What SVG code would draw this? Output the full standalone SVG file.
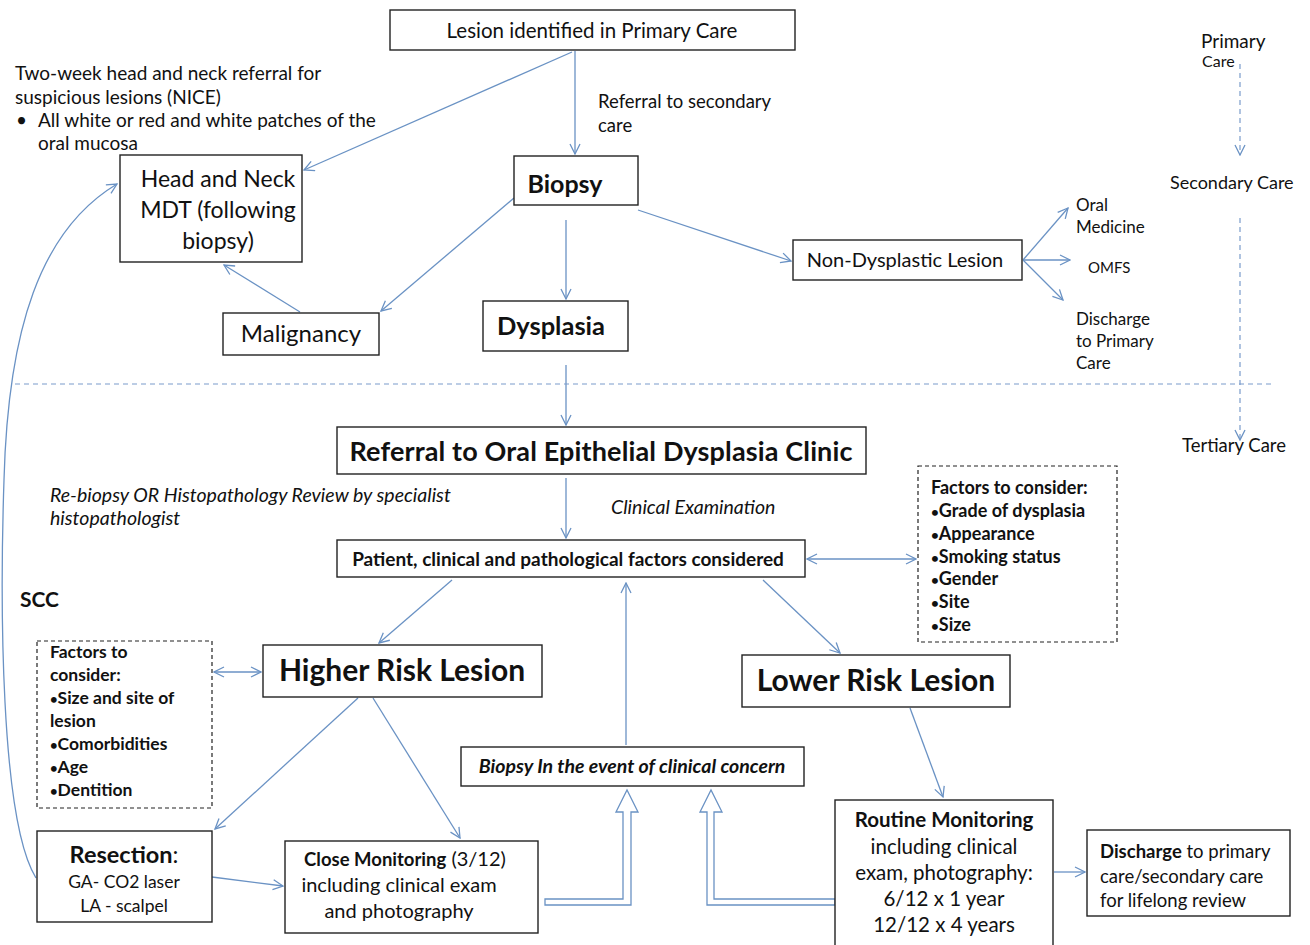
<svg xmlns="http://www.w3.org/2000/svg" width="1310" height="945" viewBox="0 0 1310 945">
<defs>
<style>
text{font-family:Lato,"Liberation Sans",sans-serif;fill:#111;}
.c{text-anchor:middle;}
.b{font-weight:bold;}
.i{font-style:italic;}
.bl{font-size:0.75em;}
.box{fill:#fff;stroke:#222;stroke-width:1.4;}
.dbox{fill:#fff;stroke:#222;stroke-width:1.2;stroke-dasharray:4 3;}
.ln{fill:none;stroke:#6a92c4;stroke-width:1.3;}
.dl{fill:none;stroke:#7a9ccb;stroke-width:1.2;stroke-dasharray:5 4;}
.blk{fill:#fff;stroke:#6a92c4;stroke-width:1.3;}
</style>
<marker id="ah" viewBox="0 0 12 12" refX="11" refY="6" markerWidth="12" markerHeight="12" markerUnits="userSpaceOnUse" orient="auto-start-reverse">
<path d="M1,1 L11,6 L1,11" fill="none" stroke="#6a92c4" stroke-width="1.3"/>
</marker>
</defs>
<rect width="1310" height="945" fill="#fff"/>

<g id="connectors">
<line class="ln" x1="575" y1="51" x2="575" y2="154" marker-end="url(#ah)"/>
<line class="ln" x1="572" y1="52" x2="304" y2="170" marker-end="url(#ah)"/>
<line class="ln" x1="638" y1="210" x2="791" y2="261" marker-end="url(#ah)"/>
<line class="ln" x1="514" y1="198" x2="381" y2="311" marker-end="url(#ah)"/>
<line class="ln" x1="566" y1="220" x2="566" y2="299" marker-end="url(#ah)"/>
<line class="ln" x1="300" y1="312" x2="224" y2="265" marker-end="url(#ah)"/>
<line class="ln" x1="1023" y1="260" x2="1068" y2="208" marker-end="url(#ah)"/>
<line class="ln" x1="1023" y1="260" x2="1070" y2="260" marker-end="url(#ah)"/>
<line class="ln" x1="1023" y1="260" x2="1063" y2="300" marker-end="url(#ah)"/>
<line class="ln" x1="566" y1="365" x2="566" y2="425" marker-end="url(#ah)"/>
<line class="ln" x1="566" y1="478" x2="566" y2="538" marker-end="url(#ah)"/>
<line class="ln" x1="807" y1="559" x2="916" y2="559" marker-start="url(#ah)" marker-end="url(#ah)"/>
<line class="ln" x1="452" y1="580" x2="379" y2="643" marker-end="url(#ah)"/>
<line class="ln" x1="763" y1="580" x2="840" y2="653" marker-end="url(#ah)"/>
<line class="ln" x1="626" y1="745" x2="626" y2="583" marker-end="url(#ah)"/>
<line class="ln" x1="214" y1="672" x2="261" y2="672" marker-start="url(#ah)" marker-end="url(#ah)"/>
<line class="ln" x1="358" y1="698" x2="215" y2="829" marker-end="url(#ah)"/>
<line class="ln" x1="373" y1="698" x2="460" y2="838" marker-end="url(#ah)"/>
<line class="ln" x1="910" y1="708" x2="943" y2="797" marker-end="url(#ah)"/>
<line class="ln" x1="212" y1="877" x2="283" y2="886" marker-end="url(#ah)"/>
<line class="ln" x1="1054" y1="872" x2="1085" y2="872" marker-end="url(#ah)"/>
<path class="ln" d="M36,878 C0,820 0,600 4,480 C8,330 40,230 117,184" marker-end="url(#ah)"/>
<path class="blk" d="M545,899 L623,899 L623,812 L616,812 L627,790 L638,812 L631,812 L631,905 L545,905 Z"/>
<path class="blk" d="M835,899 L714,899 L714,812 L722,812 L711,790 L700,812 L707,812 L707,905 L835,905 Z"/>
<line class="dl" x1="15" y1="384" x2="1275" y2="384"/>
<line class="dl" x1="1240" y1="64" x2="1240" y2="155" marker-end="url(#ah)"/>
<line class="dl" x1="1240" y1="218" x2="1240" y2="440" marker-end="url(#ah)"/>
</g>

<g id="lesion"><rect class="box" x="390" y="10" width="405" height="40"/><text class="c" x="592" y="38" font-size="20.5">Lesion identified in Primary Care</text></g>

<g id="nice-note">
<text x="15" y="80" font-size="19">Two-week head and neck referral for</text>
<text x="15" y="104" font-size="19">suspicious lesions (NICE)</text>
<text x="16" y="127" font-size="19">•</text>
<text x="38" y="127" font-size="19">All white or red and white patches of the</text>
<text x="38" y="150" font-size="19">oral mucosa</text>
</g>

<g id="referral-secondary-label">
<text x="598" y="108" font-size="18.5">Referral to secondary</text>
<text x="598" y="132" font-size="18.5">care</text>
</g>

<g id="head-neck"><rect class="box" x="120" y="155" width="182" height="107"/>
<text class="c" x="218" y="187" font-size="23">Head and Neck</text>
<text class="c" x="218" y="218" font-size="23">MDT (following</text>
<text class="c" x="218" y="249" font-size="23">biopsy)</text></g>

<g id="biopsy"><rect class="box" x="514" y="156" width="124" height="49"/><text class="c b" x="565" y="193" font-size="25">Biopsy</text></g>

<g id="non-dysplastic"><rect class="box" x="793" y="240" width="229" height="40"/><text class="c" x="905" y="267" font-size="20">Non-Dysplastic Lesion</text></g>

<g id="outcomes">
<text x="1076" y="211" font-size="17">Oral</text>
<text x="1076" y="233" font-size="17">Medicine</text>
<text x="1088" y="273" font-size="15">OMFS</text>
<text x="1076" y="325" font-size="17">Discharge</text>
<text x="1076" y="347" font-size="17">to Primary</text>
<text x="1076" y="369" font-size="17">Care</text>
</g>

<g id="care-levels">
<text x="1201" y="48" font-size="19">Primary</text>
<text x="1202" y="67" font-size="16">Care</text>
<text x="1170" y="189" font-size="18">Secondary Care</text>
<text x="1182" y="452" font-size="18.5">Tertiary Care</text>
</g>

<g id="malignancy"><rect class="box" x="223" y="313" width="156" height="42"/><text class="c" x="301" y="342" font-size="24">Malignancy</text></g>

<g id="dysplasia"><rect class="box" x="483" y="301" width="145" height="50"/><text class="c b" x="551" y="335" font-size="25.5">Dysplasia</text></g>

<g id="referral-clinic"><rect class="box" x="337" y="427" width="529" height="47"/><text class="c b" x="601" y="461" font-size="27" textLength="503" lengthAdjust="spacing">Referral to Oral Epithelial Dysplasia Clinic</text></g>

<g id="rebiopsy-note">
<text class="i" x="50" y="502" font-size="19.5">Re-biopsy OR Histopathology Review by specialist</text>
<text class="i" x="50" y="525" font-size="19.5">histopathologist</text>
</g>

<g id="clinical-exam"><text class="i" x="611" y="514" font-size="19.5">Clinical Examination</text></g>

<g id="factors-considered"><rect class="box" x="337" y="540" width="468" height="37"/><text class="c b" x="568" y="566" font-size="19">Patient, clinical and pathological factors considered</text></g>

<g id="factors-right"><rect class="dbox" x="918" y="466" width="199" height="176"/>
<text class="b" x="931" y="494" font-size="18">Factors to consider:</text>
<text class="b" x="931" y="517" font-size="18"><tspan class="bl">•</tspan>Grade of dysplasia</text>
<text class="b" x="931" y="540" font-size="18"><tspan class="bl">•</tspan>Appearance</text>
<text class="b" x="931" y="563" font-size="18"><tspan class="bl">•</tspan>Smoking status</text>
<text class="b" x="931" y="585" font-size="18"><tspan class="bl">•</tspan>Gender</text>
<text class="b" x="931" y="608" font-size="18"><tspan class="bl">•</tspan>Site</text>
<text class="b" x="931" y="631" font-size="18"><tspan class="bl">•</tspan>Size</text>
</g>

<g id="scc"><text class="b" x="20" y="607" font-size="21">SCC</text></g>

<g id="factors-left"><rect class="dbox" x="37" y="641" width="175" height="167"/>
<text class="b" x="50" y="658" font-size="17.5">Factors to</text>
<text class="b" x="50" y="681" font-size="17.5">consider:</text>
<text class="b" x="50" y="704" font-size="17.5"><tspan class="bl">•</tspan>Size and site of</text>
<text class="b" x="50" y="727" font-size="17.5">lesion</text>
<text class="b" x="50" y="750" font-size="17.5"><tspan class="bl">•</tspan>Comorbidities</text>
<text class="b" x="50" y="773" font-size="17.5"><tspan class="bl">•</tspan>Age</text>
<text class="b" x="50" y="796" font-size="17.5"><tspan class="bl">•</tspan>Dentition</text>
</g>

<g id="higher-risk"><rect class="box" x="263" y="645" width="279" height="52"/><text class="c b" x="402" y="681" font-size="30">Higher Risk Lesion</text></g>

<g id="lower-risk"><rect class="box" x="742" y="655" width="268" height="52"/><text class="c b" x="876" y="691" font-size="30">Lower Risk Lesion</text></g>

<g id="biopsy-concern"><rect class="box" x="461" y="747" width="343" height="39"/><text class="c b i" x="632" y="773" font-size="19.5">Biopsy In the event of clinical concern</text></g>

<g id="resection"><rect class="box" x="37" y="831" width="175" height="91"/>
<text class="c" x="124" y="863" font-size="23.5"><tspan class="b">Resection</tspan>:</text>
<text class="c" x="124" y="888" font-size="17.5">GA- CO2 laser</text>
<text class="c" x="124" y="912" font-size="17.5">LA - scalpel</text></g>

<g id="close-monitoring"><rect class="box" x="285" y="841" width="253" height="92"/>
<text class="c" x="405" y="866" font-size="20"><tspan class="b" font-size="18.5">Close Monitoring</tspan> (3/12)</text>
<text class="c" x="399" y="892" font-size="20">including clinical exam</text>
<text class="c" x="399" y="918" font-size="20">and photography</text></g>

<g id="routine-monitoring"><rect class="box" x="835" y="800" width="218" height="150"/>
<text class="c b" x="944" y="827" font-size="20.5">Routine Monitoring</text>
<text class="c" x="944" y="854" font-size="20.5">including clinical</text>
<text class="c" x="944" y="880" font-size="20.5">exam, photography:</text>
<text class="c" x="944" y="906" font-size="20.5">6/12 x 1 year</text>
<text class="c" x="944" y="932" font-size="20.5">12/12 x 4 years</text></g>

<g id="discharge"><rect class="box" x="1087" y="830" width="203" height="86"/>
<text x="1100" y="858" font-size="18.5"><tspan class="b">Discharge</tspan> to primary</text>
<text x="1100" y="883" font-size="18.5">care/secondary care</text>
<text x="1100" y="907" font-size="18.5">for lifelong review</text></g>
</svg>
